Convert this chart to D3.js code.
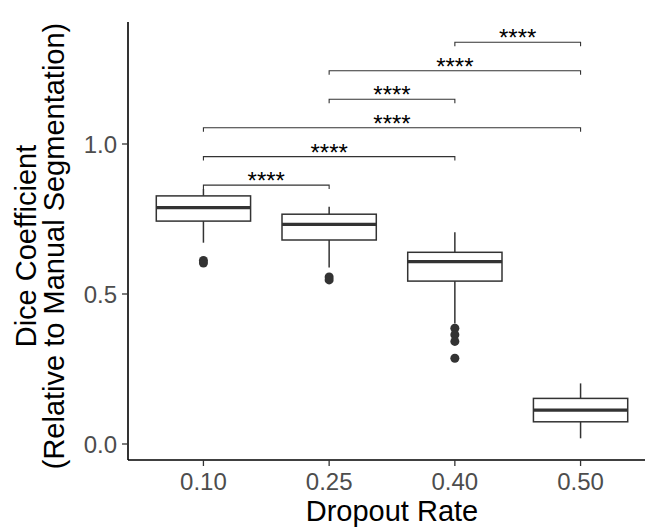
<!DOCTYPE html>
<html>
<head>
<meta charset="utf-8">
<script src="https://cdn.jsdelivr.net/npm/d3@7"></script>
<style>
  body { margin: 0; background: #fff; }
  text { font-family: "Liberation Sans", Arial, Helvetica, sans-serif; }
</style>
</head>
<body>
<svg id="chart" width="645" height="527"></svg>
<script>
const categories = ["0.10", "0.25", "0.40", "0.50"];
const whiskerLow = [0.671, 0.588, 0.402, 0.019];
const q1 = [0.743, 0.680, 0.543, 0.074];
const median = [0.788, 0.732, 0.608, 0.113];
const q3 = [0.827, 0.766, 0.639, 0.152];
const whiskerHigh = [0.850, 0.791, 0.706, 0.202];
const outliers = [
  [0.612, 0.603],
  [0.557, 0.547],
  [0.386, 0.364, 0.342, 0.286],
  []
];
const yTicks = [0.0, 0.5, 1.0];

// significance brackets
const compFrom = ["0.10", "0.10", "0.10", "0.25", "0.25", "0.40"];
const compTo = ["0.25", "0.40", "0.50", "0.40", "0.50", "0.50"];
const compLevel = [0.863, 0.958, 1.054, 1.149, 1.244, 1.339];
const compLabel = ["****", "****", "****", "****", "****", "****"];

const svg = d3.select("#chart");
const panelLeft = 128, panelRight = 656, panelTop = 22, panelBottom = 460;

const x = d3.scalePoint()
  .domain(categories)
  .range([panelLeft, panelRight])
  .padding(0.6);

const y = d3.scaleLinear()
  .domain([0, 1])
  .range([444, 144]);

const boxW = x.step() * 0.75;
const dark = "#333333";

const boxes = svg.append("g");
categories.forEach((c, i) => {
  const cx = x(c);
  const g = boxes.append("g");
  g.append("line")
    .attr("x1", cx).attr("x2", cx)
    .attr("y1", y(whiskerHigh[i])).attr("y2", y(q3[i]))
    .style("stroke", dark).style("stroke-width", 1.5);
  g.append("line")
    .attr("x1", cx).attr("x2", cx)
    .attr("y1", y(q1[i])).attr("y2", y(whiskerLow[i]))
    .style("stroke", dark).style("stroke-width", 1.5);
  g.append("rect")
    .attr("x", cx - boxW / 2)
    .attr("y", y(q3[i]))
    .attr("width", boxW)
    .attr("height", y(q1[i]) - y(q3[i]))
    .style("fill", "#fff")
    .style("stroke", dark)
    .style("stroke-width", 1.5);
  g.append("line")
    .attr("x1", cx - boxW / 2).attr("x2", cx + boxW / 2)
    .attr("y1", y(median[i])).attr("y2", y(median[i]))
    .style("stroke", dark).style("stroke-width", 3.2);
  g.selectAll("circle")
    .data(outliers[i])
    .enter().append("circle")
    .attr("cx", cx)
    .attr("cy", d => y(d))
    .attr("r", 4.5)
    .style("fill", dark);
});

// brackets
const brackets = svg.append("g");
compFrom.forEach((f, i) => {
  const x1 = x(f), x2 = x(compTo[i]);
  const yy = y(compLevel[i]);
  const tip = 4;
  brackets.append("path")
    .attr("d", `M${x1},${yy + tip}V${yy}H${x2}V${yy + tip}`)
    .style("fill", "none")
    .style("stroke", dark)
    .style("stroke-width", 1.1);
  brackets.append("text")
    .attr("x", (x1 + x2) / 2)
    .attr("y", yy + 4)
    .attr("text-anchor", "middle")
    .style("font-size", "24px")
    .style("fill", "#000")
    .text(compLabel[i]);
});

// axes
const yAxis = svg.append("g");
yAxis.append("line")
  .attr("x1", panelLeft).attr("x2", panelLeft)
  .attr("y1", panelTop).attr("y2", panelBottom)
  .style("stroke", "#000").style("stroke-width", 1.6);
yAxis.selectAll(".tick")
  .data(yTicks)
  .enter().append("line")
  .attr("x1", panelLeft - 6).attr("x2", panelLeft)
  .attr("y1", d => y(d)).attr("y2", d => y(d))
  .style("stroke", dark).style("stroke-width", 1.3);
yAxis.selectAll(".lab")
  .data(yTicks)
  .enter().append("text")
  .attr("x", 117)
  .attr("y", d => y(d))
  .attr("dy", "0.36em")
  .attr("text-anchor", "end")
  .style("font-size", "24px")
  .style("fill", "#4D4D4D")
  .text(d => d3.format(".1f")(d));

const xAxis = svg.append("g");
xAxis.append("line")
  .attr("x1", panelLeft).attr("x2", panelRight)
  .attr("y1", panelBottom).attr("y2", panelBottom)
  .style("stroke", "#000").style("stroke-width", 1.6);
xAxis.selectAll(".tick")
  .data(categories)
  .enter().append("line")
  .attr("x1", d => x(d)).attr("x2", d => x(d))
  .attr("y1", panelBottom).attr("y2", panelBottom + 6)
  .style("stroke", dark).style("stroke-width", 1.3);
xAxis.selectAll(".lab")
  .data(categories)
  .enter().append("text")
  .attr("x", d => x(d))
  .attr("y", 490)
  .attr("text-anchor", "middle")
  .style("font-size", "24px")
  .style("fill", "#4D4D4D")
  .text(d => d);

svg.append("text")
  .attr("x", (panelLeft + panelRight) / 2)
  .attr("y", 521)
  .attr("text-anchor", "middle")
  .style("font-size", "29px")
  .style("fill", "#000")
  .text("Dropout Rate");

const ty = svg.append("text")
  .attr("transform", "translate(0,246) rotate(-90)")
  .attr("text-anchor", "middle")
  .style("font-size", "29px")
  .style("fill", "#000");
ty.append("tspan").attr("x", 0).attr("y", 36).text("Dice Coefficient");
ty.append("tspan").attr("x", 0).attr("y", 64).text("(Relative to Manual Segmentation)");
</script>
</body>
</html>
